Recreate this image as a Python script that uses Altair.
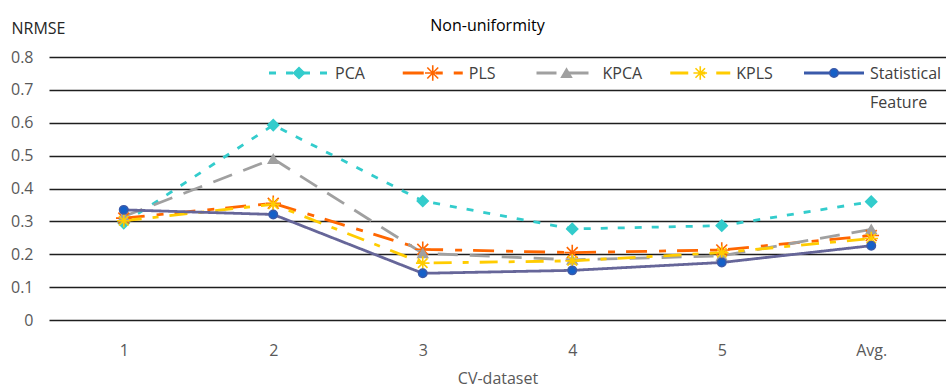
import altair as alt
import pandas as pd

# ---- data ----
datasets = ["1", "2", "3", "4", "5", "Avg."]
series = ["PCA", "PLS", "KPCA", "KPLS", "Statistical Feature"]
pca = [0.295, 0.593, 0.362, 0.277, 0.287, 0.360]
pls = [0.310, 0.355, 0.215, 0.205, 0.213, 0.257]
kpca = [0.315, 0.490, 0.203, 0.183, 0.195, 0.276]
kpls = [0.302, 0.352, 0.173, 0.180, 0.205, 0.248]
stat = [0.335, 0.321, 0.142, 0.151, 0.175, 0.226]
y_ticks = [0, 0.1, 0.2, 0.3, 0.4, 0.5, 0.6, 0.7, 0.8]

# ---- styles ----
line_colors = ["#33CCCC", "#FF6600", "#A0A0A0", "#FFCC00", "#666699"]
marker_fill = ["#33CCCC", "#FF6600", "#A0A0A0", "#FFCC00", "#1560C8"]
marker_stroke = ["#33CCCC", "#FF6600", "#A0A0A0", "#FFCC00", "#3A5AAA"]
marker_size = [120, 70, 110, 70, 75]
dashes = [[7, 10], [21, 12, 7, 11], [20, 12], [18, 11, 6, 11], [1, 0]]
asterisk = "M-1.5,0L1.5,0M0,-1.5L0,1.5M-1.05,-1.05L1.05,1.05M-1.05,1.05L1.05,-1.05"
shapes = ["diamond", asterisk, "triangle-up", asterisk, "circle"]
FONT = "Open Sans"

rows = []
for name, vals in zip(series, [pca, pls, kpca, kpls, stat]):
    for d, v in zip(datasets, vals):
        rows.append({"series": name, "dataset": d, "value": v})
df = pd.DataFrame(rows)
leg = pd.DataFrame({"series": series})

color_scale = alt.Scale(domain=series, range=line_colors)
fill_scale = alt.Scale(domain=series, range=marker_fill)
stroke_scale = alt.Scale(domain=series, range=marker_stroke)
dash_scale = alt.Scale(domain=series, range=dashes)
shape_scale = alt.Scale(domain=series, range=shapes)
size_scale = alt.Scale(domain=series, range=marker_size)

x_scale = alt.Scale(domain=datasets, padding=0.5)
x_enc = alt.X(
    "dataset:N", sort=datasets, scale=x_scale,
    axis=alt.Axis(title="CV-dataset", labelAngle=0, ticks=False, domain=False,
                  grid=False, labelPadding=22, titlePadding=12,
                  labelFontSize=16, titleFontSize=16, labelFont=FONT, titleFont=FONT,
                  labelColor="#595959", titleColor="#595959", titleFontWeight="normal"),
)
y_enc = alt.Y(
    "value:Q",
    scale=alt.Scale(domain=[0, 0.8], nice=False),
    axis=alt.Axis(values=y_ticks, format=".1~f", title="NRMSE", titleAngle=0,
                  titleAlign="left", titleBaseline="middle", titleX=-38, titleY=-29,
                  ticks=False, domain=False, grid=True, gridColor="#1e1e1e",
                  gridWidth=1.6, labelPadding=16, labelFontSize=16, titleFontSize=16,
                  labelFont=FONT, titleFont=FONT, labelColor="#595959",
                  titleColor="#262626", titleFontWeight="normal"),
)

lines = alt.Chart(df).mark_line(strokeWidth=2.8).encode(
    x=x_enc, y=y_enc,
    color=alt.Color("series:N", scale=color_scale, legend=None),
    strokeDash=alt.StrokeDash("series:N", scale=dash_scale, legend=None),
)
points = alt.Chart(df).mark_point(filled=True, strokeWidth=1.6, opacity=1).encode(
    x=x_enc, y=y_enc,
    fill=alt.Fill("series:N", scale=fill_scale, legend=None),
    stroke=alt.Stroke("series:N", scale=stroke_scale, legend=None),
    shape=alt.Shape("series:N", scale=shape_scale, legend=None),
    size=alt.Size("series:N", scale=size_scale, legend=None),
)
main = alt.layer(lines, points)

# ---- manual legend (row above the plot) ----
leg_x = alt.X("series:N", sort=series,
              scale=alt.Scale(domain=series, range=[250, 785], padding=0), axis=None)
leg_line = alt.Chart(leg).mark_point(shape="M-1,0L1,0", size=3600, strokeWidth=2.8,
                                     filled=False, opacity=1).encode(
    x=leg_x, y=alt.value(16),
    stroke=alt.Stroke("series:N", scale=color_scale, legend=None),
    strokeDash=alt.StrokeDash("series:N", scale=dash_scale, legend=None),
)
leg_mark = alt.Chart(leg).mark_point(filled=True, strokeWidth=1.6, opacity=1).encode(
    x=leg_x, y=alt.value(16),
    fill=alt.Fill("series:N", scale=fill_scale, legend=None),
    stroke=alt.Stroke("series:N", scale=stroke_scale, legend=None),
    shape=alt.Shape("series:N", scale=shape_scale, legend=None),
    size=alt.Size("series:N", scale=size_scale, legend=None),
)
leg_text = alt.Chart(leg).mark_text(align="left", baseline="top", dx=36, dy=-7,
                                    fontSize=16, font=FONT, color="#404040",
                                    lineBreak=" ", lineHeight=29).encode(
    x=leg_x, y=alt.value(16), text="series:N",
)
legend = alt.layer(leg_line, leg_mark, leg_text)

chart = alt.layer(main, legend).resolve_scale(
    x="independent"
).properties(
    width=897, height=263,
    title=alt.TitleParams("Non-uniformity", fontSize=16, font=FONT, fontWeight="normal",
                          color="#000000", anchor="middle", dx=-10, offset=0,
                          baseline="middle", dy=22),
    autosize=alt.AutoSizeParams(type="none"),
    padding={"left": 49, "top": 57, "right": 0, "bottom": 67},
).configure_view(stroke=None)

chart.save("out.html", embed_options={"renderer": "svg", "actions": False})
